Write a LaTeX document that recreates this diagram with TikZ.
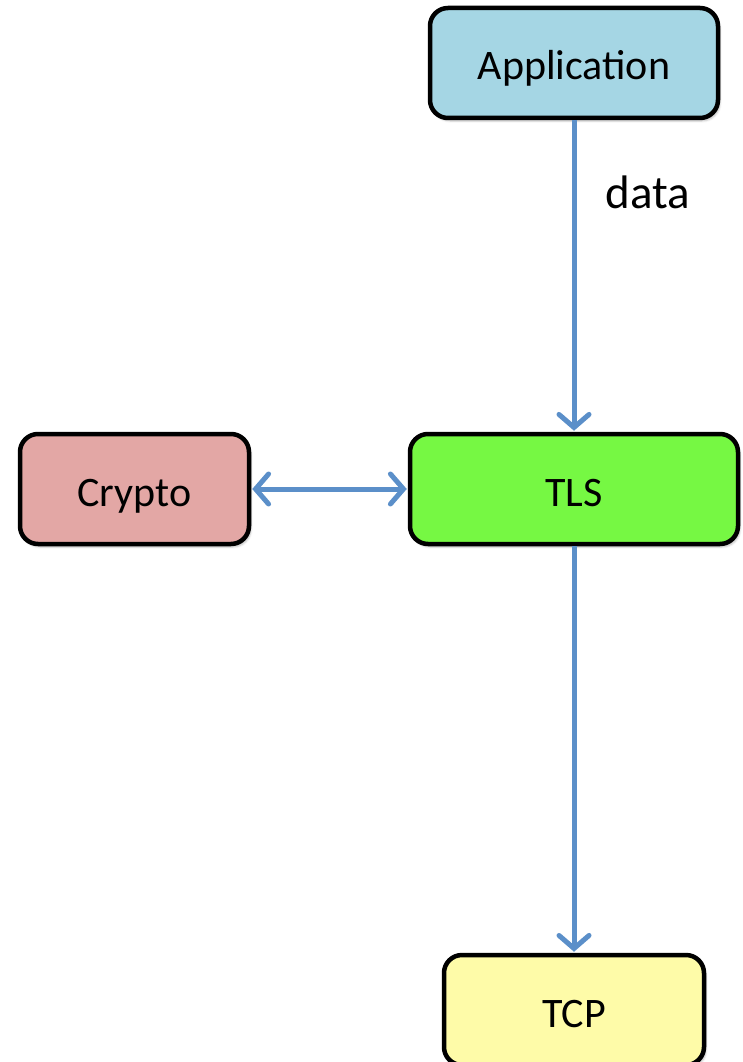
\documentclass[tikz,border=0pt]{standalone}
\usepackage{fontspec}
\setmainfont{Carlito}
\usetikzlibrary{arrows.meta,shadows.blur}
\definecolor{appfill}{HTML}{A5D6E4}
\definecolor{cryptofill}{HTML}{E3A7A5}
\definecolor{tlsfill}{HTML}{76F843}
\definecolor{tcpfill}{HTML}{FEFBA8}
\definecolor{flow}{HTML}{5B8FC9}
\tikzset{
  x=1pt, y=1pt,
  bigtext/.style={font=\fontsize{42}{48}\selectfont},
  labeltext/.style={font=\fontsize{47}{54}\selectfont},
  layer/.style={draw=black, line width=4.5pt, rounded corners=18pt,
    inner sep=0pt, bigtext, text height=34pt, text depth=0pt,
    blur shadow={shadow xshift=2pt, shadow yshift=-3pt, shadow blur steps=4, shadow opacity=25}},
  flowline/.style={draw=flow, line width=5pt, -{Straight Barb[length=13pt, width=30pt, line width=5pt, line cap=round]}},
  bothflow/.style={draw=flow, line width=5pt,
    {Straight Barb[length=13pt, width=30pt, line width=5pt, line cap=round]}-{Straight Barb[length=13pt, width=30pt, line width=5pt, line cap=round]}},
}
\begin{document}
\begin{tikzpicture}
\useasboundingbox (0,0) rectangle (742,-1062);
\node[layer, fill=appfill, minimum width=288pt, minimum height=110pt] (app) at (574,-63) {Application};
\node[layer, fill=cryptofill, minimum width=229pt, minimum height=110pt] (crypto) at (134.5,-489) {Crypto};
\node[layer, fill=tlsfill, minimum width=328pt, minimum height=110pt] (tls) at (574,-489) {TLS};
\node[layer, fill=tcpfill, minimum width=260pt, minimum height=110pt] (tcp) at (574,-1010) {TCP};
\draw[flowline, shorten >=1pt] (app.south) -- (tls.north);
\draw[flowline, shorten >=1pt] (tls.south) -- (tcp.north);
\draw[bothflow, shorten <=1pt, shorten >=1pt] (crypto.east) -- (tls.west);
\node[labeltext] (data) at (648,-192) {data};
\end{tikzpicture}
\end{document}
